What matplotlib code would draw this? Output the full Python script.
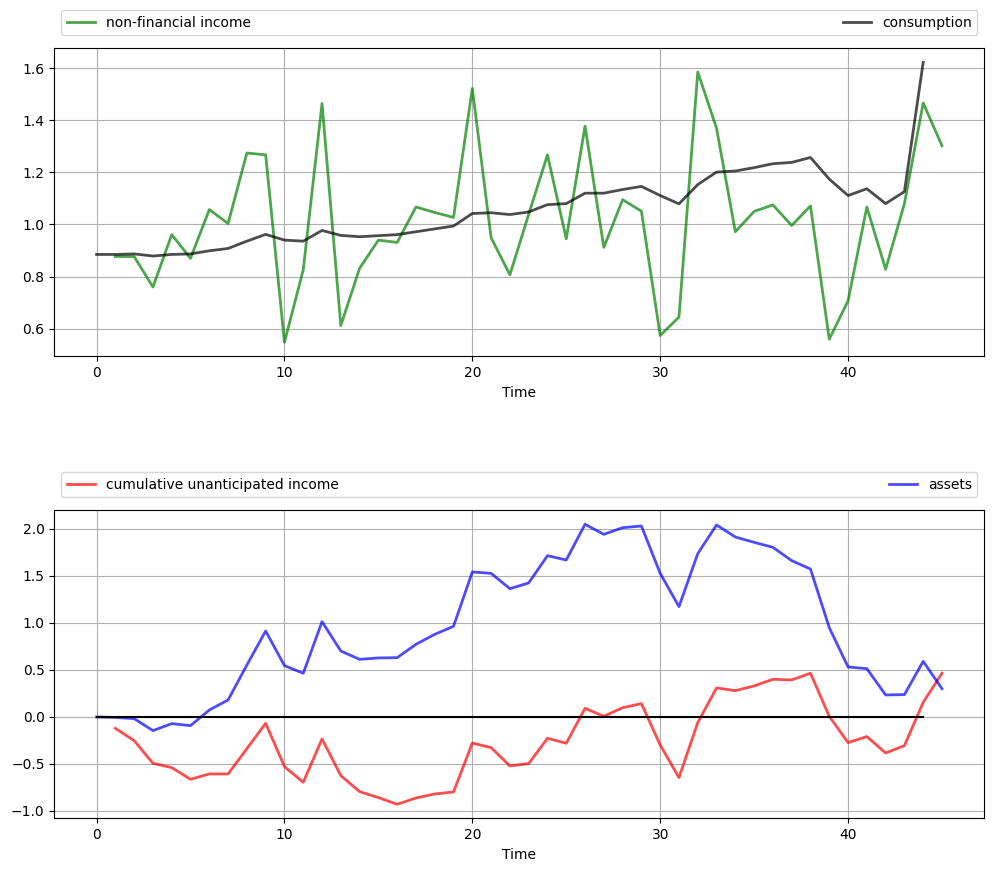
import matplotlib
matplotlib.use("Agg")
import matplotlib.pyplot as plt

# ── non-financial income (t = 1..45) ─────────────────────────────────────────
income_t = list(range(1, 46))
income = [
    0.877, 0.877, 0.760, 0.961, 0.870, 1.057, 1.004, 1.274, 1.267, 0.548,
    0.826, 1.464, 0.612, 0.832, 0.940, 0.931, 1.067, 1.046, 1.027, 1.522,
    0.949, 0.807, 1.039, 1.267, 0.945, 1.377, 0.912, 1.095, 1.051, 0.574,
    0.645, 1.585, 1.369, 0.972, 1.050, 1.075, 0.996, 1.071, 0.560, 0.707,
    1.067, 0.828, 1.080, 1.466, 1.302,
]

# ── consumption (t = 0..44) ──────────────────────────────────────────────────
cons_t = list(range(0, 45))
consumption = [
    0.885, 0.885, 0.887, 0.879, 0.885, 0.887, 0.899, 0.908, 0.936, 0.962,
    0.940, 0.936, 0.977, 0.958, 0.953, 0.957, 0.961, 0.972, 0.983, 0.994,
    1.042, 1.045, 1.038, 1.048, 1.076, 1.080, 1.120, 1.120, 1.134, 1.146,
    1.111, 1.079, 1.153, 1.201, 1.205, 1.218, 1.233, 1.238, 1.257, 1.174,
    1.111, 1.137, 1.080, 1.126, 1.622,
]

# ── cumulative unanticipated income (t = 1..45) ──────────────────────────────
cum_t = list(range(1, 46))
cum_income = [
    -0.121, -0.252, -0.493, -0.539, -0.663, -0.606, -0.606, -0.337, -0.067, -0.528,
    -0.695, -0.234, -0.624, -0.794, -0.858, -0.929, -0.862, -0.819, -0.798, -0.277,
    -0.326, -0.521, -0.496, -0.227, -0.280, 0.092, 0.007, 0.099, 0.142, -0.298,
    -0.645, -0.060, 0.309, 0.280, 0.330, 0.401, 0.394, 0.465, 0.007, -0.273,
    -0.209, -0.383, -0.305, 0.156, 0.465,
]

# ── assets (t = 0..45) ───────────────────────────────────────────────────────
assets_t = list(range(0, 46))
assets = [
    0.000, -0.005, -0.018, -0.145, -0.071, -0.092, 0.074, 0.181, 0.553, 0.915,
    0.546, 0.465, 1.014, 0.702, 0.613, 0.628, 0.631, 0.773, 0.879, 0.965,
    1.543, 1.528, 1.365, 1.426, 1.716, 1.670, 2.050, 1.943, 2.014, 2.032,
    1.528, 1.174, 1.738, 2.043, 1.915, 1.858, 1.805, 1.663, 1.574, 0.950,
    0.532, 0.514, 0.234, 0.238, 0.592, 0.301,
]

zero_t = list(range(0, 45))

fig, axes = plt.subplots(2, 1, figsize=(9.93, 8.72), dpi=100)
fig.subplots_adjust(left=0.0547, right=0.9912, top=0.9446, bottom=0.0616,
                    hspace=0.5)

legend_args = dict(ncol=2, bbox_to_anchor=(0., 1.02, 1., .102), loc=3,
                   mode="expand")

ax = axes[0]
ax.grid()
ax.plot(income_t, income, "g-", lw=2, alpha=0.7, label="non-financial income")
ax.plot(cons_t, consumption, "k-", lw=2, alpha=0.7, label="consumption")
ax.set_xlabel("Time")
ax.legend(**legend_args)

ax = axes[1]
ax.grid()
ax.plot(cum_t, cum_income, "r-", lw=2, alpha=0.7,
        label="cumulative unanticipated income")
ax.plot(assets_t, assets, "b-", lw=2, alpha=0.7, label="assets")
ax.plot(zero_t, [0.0] * len(zero_t), "k-")
ax.set_xlabel("Time")
ax.legend(**legend_args)

fig.savefig("out.png", dpi=100)
